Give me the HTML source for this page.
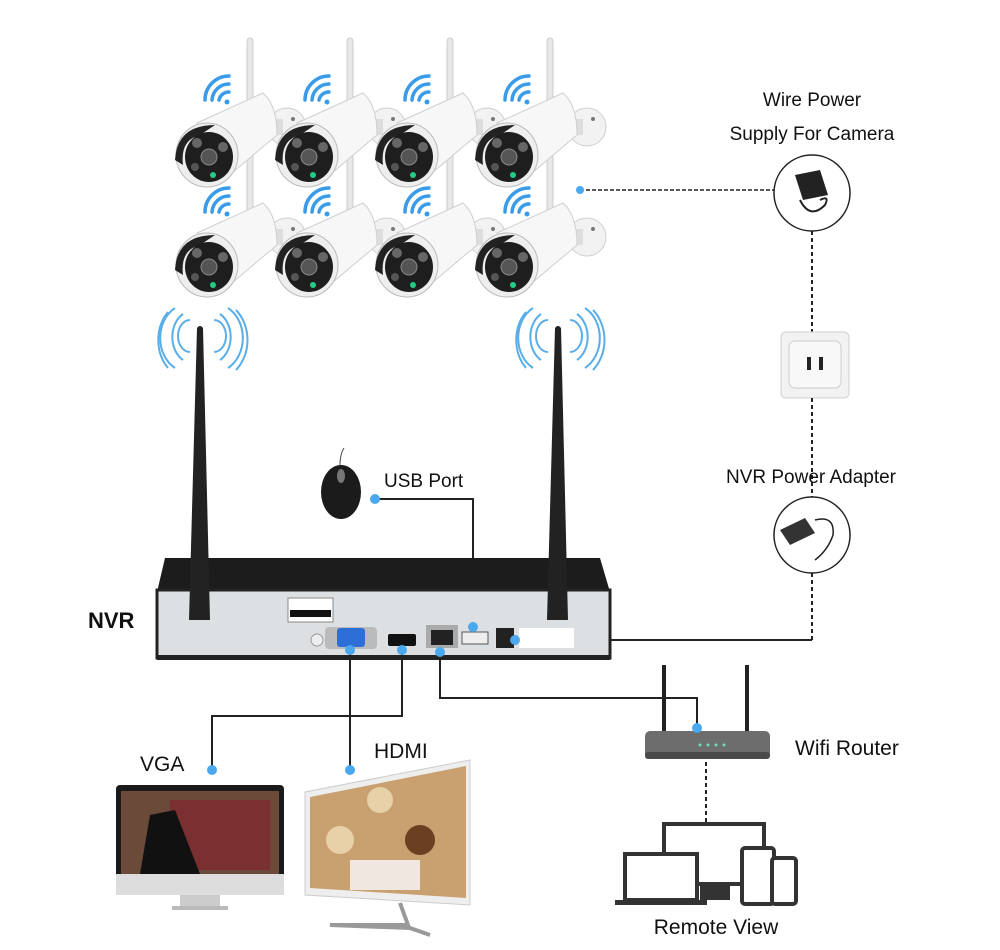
<!DOCTYPE html>
<html><head><meta charset="utf-8"><style>
html,body{margin:0;padding:0;background:#fff;}
svg{display:block}
text{font-family:"Liberation Sans",sans-serif;fill:#111}
</style></head><body>
<svg width="1000" height="950" viewBox="0 0 1000 950" xmlns="http://www.w3.org/2000/svg">
<defs>
<g id="wifi" fill="none" stroke="#3a9be8" stroke-width="3.5" stroke-linecap="round">
  <path d="M-6,-8 A10,10 0 0 1 4,-16"/>
  <path d="M-13,-8 A17,17 0 0 1 4,-24"/>
  <path d="M-20,-8 A24,24 0 0 1 4,-32"/>
  <circle cx="2" cy="-6" r="2.5" fill="#3a9be8" stroke="none"/>
</g>
<g id="cam">
  <rect x="42" y="-117" width="6" height="85" rx="3" fill="#e8e8e8" stroke="#ccc"/>
  <circle cx="82" cy="-28" r="19" fill="#f2f2f2" stroke="#cfcfcf"/>
  <circle cx="88" cy="-36" r="2" fill="#777"/>
  <rect x="62" y="-36" width="16" height="16" fill="#ddd"/>
  <path d="M-8,-32 L58,-62 Q72,-50 72,-20 L15,28 Z" fill="#f7f7f7" stroke="#cfcfcf"/>
  <ellipse cx="2" cy="0" rx="31" ry="32" fill="#eee" stroke="#bbb"/>
  <path d="M-30,5 Q-28,-30 10,-30 L-5,-20 Q-25,-15 -22,10 Z" fill="#222"/>
  <ellipse cx="4" cy="2" rx="24" ry="25" fill="#1e1e1e"/>
  <circle cx="4" cy="2" r="8" fill="#555" stroke="#888"/>
  <circle cx="-8" cy="-12" r="5" fill="#666"/>
  <circle cx="18" cy="-8" r="5" fill="#666"/>
  <circle cx="-10" cy="12" r="4" fill="#555"/>
  <circle cx="8" cy="20" r="3" fill="#2c8"/>
</g>
</defs>

<!-- cameras -->
<g>
  <use href="#wifi" x="225" y="108"/><use href="#wifi" x="325" y="108"/><use href="#wifi" x="425" y="108"/><use href="#wifi" x="525" y="108"/>
  <use href="#wifi" x="225" y="220"/><use href="#wifi" x="325" y="220"/><use href="#wifi" x="425" y="220"/><use href="#wifi" x="525" y="220"/>
  <use href="#cam" x="205" y="265"/><use href="#cam" x="305" y="265"/><use href="#cam" x="405" y="265"/><use href="#cam" x="505" y="265"/>
  <use href="#cam" x="205" y="155"/><use href="#cam" x="305" y="155"/><use href="#cam" x="405" y="155"/><use href="#cam" x="505" y="155"/>
</g>

<!-- big antenna waves -->
<g fill="none" stroke="#5aaee8" stroke-width="2">
  <path d="M190,320 A12,16 0 0 0 190,352"/><path d="M183,314 A20,26 0 0 0 183,360"/><path d="M175,308 A28,34 0 0 0 175,368"/><path d="M168,312 A34,40 0 0 0 168,368"/>
  <path d="M214,320 A12,16 0 0 1 214,352"/><path d="M220,314 A20,26 0 0 1 220,360"/><path d="M228,308 A28,34 0 0 1 228,368"/><path d="M236,310 A34,40 0 0 1 236,370"/>
  <path d="M548,320 A12,16 0 0 0 548,352"/><path d="M541,314 A20,26 0 0 0 541,360"/><path d="M533,308 A28,34 0 0 0 533,368"/><path d="M526,312 A34,40 0 0 0 526,368"/>
  <path d="M570,320 A12,16 0 0 1 570,352"/><path d="M577,314 A20,26 0 0 1 577,360"/><path d="M585,308 A28,34 0 0 1 585,368"/><path d="M593,310 A34,40 0 0 1 593,370"/>
</g>

<!-- power side -->
<line x1="580" y1="190" x2="776" y2="190" stroke="#222" stroke-width="1.5" stroke-dasharray="4,2"/>
<circle cx="580" cy="190" r="4" fill="#4aa8ee"/>
<text x="812" y="106" font-size="19" text-anchor="middle">Wire Power</text>
<text x="812" y="140" font-size="19" text-anchor="middle">Supply For Camera</text>
<circle cx="812" cy="193" r="38" fill="#fff" stroke="#222" stroke-width="1.5"/>
<path d="M795,175 l25,-5 l8,25 l-25,5z" fill="#222"/>
<path d="M800,200 q10,20 25,5 q5,-10 -5,-5" fill="none" stroke="#222" stroke-width="2"/>
<line x1="812" y1="231" x2="812" y2="332" stroke="#222" stroke-width="2" stroke-dasharray="4,3"/>
<rect x="781" y="332" width="68" height="66" rx="5" fill="#f2f2f2" stroke="#d0d0d0"/>
<rect x="789" y="341" width="52" height="47" rx="6" fill="#f8f8f8" stroke="#ccc"/>
<rect x="807" y="357" width="4" height="13" fill="#222"/><rect x="819" y="357" width="4" height="13" fill="#222"/>
<line x1="812" y1="398" x2="812" y2="497" stroke="#222" stroke-width="2" stroke-dasharray="4,3"/>
<text x="811" y="483" font-size="19" text-anchor="middle">NVR Power Adapter</text>
<circle cx="812" cy="535" r="38" fill="#fff" stroke="#222" stroke-width="1.5"/>
<path d="M780,530 l25,-12 l10,15 l-25,12z" fill="#333"/>
<path d="M815,520 q20,-5 18,15 q-5,15 -18,25" fill="none" stroke="#222" stroke-width="1.5"/>
<line x1="812" y1="573" x2="812" y2="640" stroke="#222" stroke-width="2" stroke-dasharray="4,3"/>
<polyline points="812,640 515,640" fill="none" stroke="#222" stroke-width="2"/>

<!-- mouse + USB -->
<path d="M340,466 q0,-12 4,-18" stroke="#444" fill="none"/>
<ellipse cx="341" cy="492" rx="20" ry="27" fill="#1b1b1b"/>
<ellipse cx="341" cy="476" rx="4" ry="7" fill="#777"/>
<text x="384" y="487" font-size="19">USB Port</text>
<polyline points="375,499 473,499 473,626" fill="none" stroke="#222" stroke-width="2"/>
<circle cx="375" cy="499" r="5" fill="#4aa8ee"/>

<!-- NVR -->
<path d="M165,558 L600,558 L610,592 L157,592 Z" fill="#1c1c1c"/>
<rect x="157" y="590" width="453" height="68" fill="#dde0e3" stroke="#222" stroke-width="3"/>
<rect x="157" y="655" width="453" height="5" fill="#222"/>
<text x="88" y="628" font-size="22" font-weight="bold">NVR</text>
<rect x="288" y="598" width="45" height="24" fill="#fff" stroke="#888"/>
<rect x="290" y="610" width="41" height="7" fill="#111"/>
<rect x="325" y="627" width="52" height="22" rx="4" fill="#bbb"/>
<rect x="337" y="628" width="28" height="19" rx="3" fill="#2d6fd6"/>
<rect x="388" y="634" width="28" height="12" rx="2" fill="#111"/>
<rect x="426" y="625" width="32" height="23" fill="#aaa"/><rect x="431" y="630" width="22" height="15" fill="#222"/>
<rect x="462" y="632" width="26" height="12" fill="#eee" stroke="#555"/>
<rect x="496" y="628" width="18" height="20" fill="#222"/>
<rect x="519" y="628" width="55" height="20" fill="#fff"/>
<circle cx="317" cy="640" r="6" fill="#eee" stroke="#999"/>
<circle cx="473" cy="627" r="5" fill="#4aa8ee"/>
<circle cx="515" cy="640" r="5" fill="#4aa8ee"/>

<!-- NVR antennas -->
<path d="M197,328 L203,328 L210,620 L189,620 Z" fill="#222"/>
<circle cx="200" cy="329" r="3" fill="#222"/>
<path d="M555,328 L561,328 L568,620 L547,620 Z" fill="#222"/>
<circle cx="558" cy="329" r="3" fill="#222"/>

<!-- connectors bottom -->
<polyline points="402,650 402,716 212,716 212,770" fill="none" stroke="#222" stroke-width="2"/>
<polyline points="350,650 350,770" fill="none" stroke="#222" stroke-width="2"/>
<polyline points="440,652 440,698 697,698 697,728" fill="none" stroke="#222" stroke-width="2"/>
<circle cx="350" cy="650" r="5" fill="#4aa8ee"/><circle cx="402" cy="650" r="5" fill="#4aa8ee"/><circle cx="440" cy="652" r="5" fill="#4aa8ee"/>
<circle cx="212" cy="770" r="5" fill="#4aa8ee"/><circle cx="350" cy="770" r="5" fill="#4aa8ee"/>
<text x="140" y="771" font-size="21">VGA</text>
<text x="374" y="758" font-size="21">HDMI</text>

<!-- iMac -->
<rect x="116" y="785" width="168" height="110" rx="4" fill="#1a1a1a"/>
<rect x="121" y="791" width="158" height="83" fill="#6b4a3a"/>
<rect x="170" y="800" width="100" height="70" fill="#7a3030"/>
<path d="M140,874 L150,815 L175,810 L200,874 Z" fill="#111"/>
<rect x="116" y="874" width="168" height="21" fill="#ddd"/>
<rect x="180" y="895" width="40" height="12" fill="#ccc"/>
<rect x="172" y="906" width="56" height="4" fill="#bbb"/>

<!-- HDMI monitor -->
<path d="M305,792 L470,760 L470,905 L305,895 Z" fill="#eee" stroke="#ccc"/>
<path d="M310,797 L466,766 L466,898 L310,888 Z" fill="#c9a070"/>
<circle cx="340" cy="840" r="14" fill="#e8d0a8"/><circle cx="380" cy="800" r="13" fill="#e8d0a8"/><circle cx="420" cy="840" r="15" fill="#6a4020"/>
<rect x="350" y="860" width="70" height="30" fill="#f0e8e0"/>
<path d="M400,903 L408,925 L330,925 L410,928 L430,935" fill="none" stroke="#999" stroke-width="4"/>

<!-- router -->
<rect x="662" y="665" width="4" height="68" fill="#222"/>
<rect x="745" y="665" width="4" height="68" fill="#222"/>
<rect x="645" y="731" width="125" height="28" rx="5" fill="#6d6d6d"/>
<rect x="645" y="752" width="125" height="7" rx="3" fill="#4a4a4a"/>
<g fill="#6fe0b0"><circle cx="700" cy="745" r="1.5"/><circle cx="708" cy="745" r="1.5"/><circle cx="716" cy="745" r="1.5"/><circle cx="724" cy="745" r="1.5"/></g>
<circle cx="697" cy="728" r="5" fill="#4aa8ee"/>
<text x="795" y="755" font-size="21">Wifi Router</text>
<line x1="706" y1="762" x2="706" y2="822" stroke="#222" stroke-width="2" stroke-dasharray="4,3"/>

<!-- remote devices -->
<g fill="#fff" stroke="#333" stroke-width="4">
  <rect x="664" y="824" width="100" height="60"/>
  <rect x="625" y="854" width="72" height="46"/>
  <rect x="742" y="848" width="32" height="56" rx="3"/>
  <rect x="772" y="858" width="24" height="46" rx="3"/>
</g>
<rect x="615" y="900" width="92" height="5" fill="#333"/>
<rect x="700" y="884" width="30" height="16" fill="#333"/>
<text x="716" y="934" font-size="21" text-anchor="middle">Remote View</text>
</svg>
</body></html>
